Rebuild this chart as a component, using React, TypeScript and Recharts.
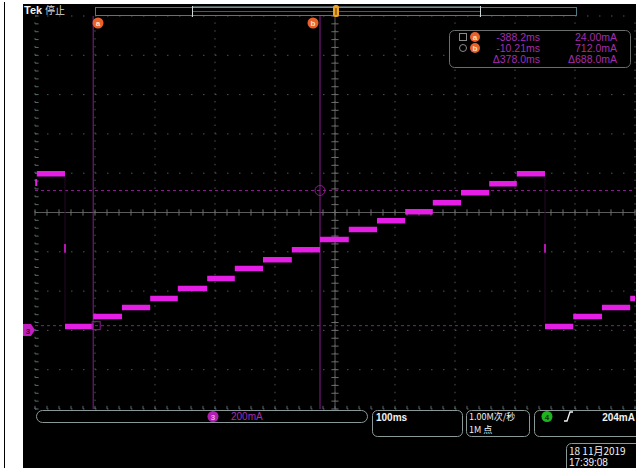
import React from "react";
import { ComposedChart, Line, XAxis, YAxis, ReferenceLine, ReferenceDot } from "recharts";

// ---- data (time in ms relative to screen centre, current in mA)
const stepStartMs = [-497, -450, -403, -355, -308, -262, -213, -167, -120, -72, -25, 23, 70, 117, 163, 210, 257, 303, 350, 397, 445, 492];
const stepEndMs = [-450, -403, -355, -308, -262, -213, -167, -120, -72, -25, 23, 70, 117, 163, 210, 257, 303, 350, 397, 445, 492, 500];
const stepLevelMa = [797, 20, 71, 117, 162, 213, 264, 315, 360, 411, 462, 513, 558, 604, 650, 700, 746, 797, 20, 71, 117, 162];

const dropTimesMs = [-450, 350];
const timeTicksMs = [-500, -400, -300, -200, -100, 0, 100, 200, 300, 400, 500];
const currentTicksMa = [-400, -200, 0, 200, 400, 600, 800, 1000, 1200, 1400, 1600];
const minorTimeStepMs = 20;
const minorCurrentStepMa = 40;

const cursorTimesMs = [-403, -25];
const cursorLevelsMa = [24, 712];
const cursorNames = ["a", "b"];
const readoutTime = ["-388.2ms", "-10.21ms", "Δ378.0ms"];
const readoutCurrent = ["24.00mA", "712.0mA", "Δ688.0mA"];

const X_DOMAIN: [number, number] = [-500, 500];
const Y_DOMAIN: [number, number] = [-400, 1600];

const waveRows: { t: number; I: number | null }[] = [];
stepStartMs.forEach((s, i) => {
  waveRows.push({ t: s, I: stepLevelMa[i] });
  waveRows.push({ t: stepEndMs[i], I: stepLevelMa[i] });
  waveRows.push({ t: stepEndMs[i], I: null });
});

const minorT: number[] = [];
for (let t = X_DOMAIN[0]; t <= X_DOMAIN[1]; t += minorTimeStepMs) minorT.push(t);
const minorI: number[] = [];
for (let v = Y_DOMAIN[0]; v <= Y_DOMAIN[1]; v += minorCurrentStepMa) minorI.push(v);

const MAG = "#e41ee4";
const CUR = "#8c1c90";
const TXT = "#a62cb0";
const GRID = "#4e5454";
const FONT = "'Liberation Sans', Arial, sans-serif";
const CJK = "'Noto Sans CJK SC', 'Liberation Sans', sans-serif";

export default function App() {
  const centerT = 0;
  const centerI = 600;
  return (
    <div style={{ position: "absolute", left: 0, top: 0, width: 636, height: 468, background: "#fff", overflow: "hidden" }}>
      <div style={{ position: "absolute", left: 4, top: 2, width: 1, height: 466, background: "#000" }} />
      <div style={{ position: "absolute", left: 23, top: 4, width: 613, height: 464, background: "#000" }}>
        <ComposedChart width={613} height={464} data={waveRows} margin={{ top: 12, right: 1, left: 12, bottom: 59 }}>
          <XAxis type="number" dataKey="t" domain={X_DOMAIN} hide allowDataOverflow />
          <YAxis type="number" domain={Y_DOMAIN} hide allowDataOverflow />
          {timeTicksMs.map((t) => (
            <ReferenceLine key={"gx" + t} x={t} stroke={t === X_DOMAIN[0] ? "#5a6a6e" : GRID} strokeDasharray="1.5 6.36" />
          ))}
          {currentTicksMa.map((v) => (
            <ReferenceLine key={"gy" + v} y={v} stroke={v === Y_DOMAIN[0] ? "#5a6a6e" : GRID} strokeDasharray="1.5 10.5" />
          ))}
          <ReferenceLine x={centerT} stroke="#5c5c5c" />
          <ReferenceLine y={centerI} stroke="#5c5c5c" />
          {minorT.map((t) => (
            <ReferenceLine key={"mt" + t} segment={[{ x: t, y: centerI - 16 }, { x: t, y: centerI + 16 }]} stroke="#6e6e6e" />
          ))}
          {minorI.map((v) => (
            <ReferenceLine key={"mi" + v} segment={[{ x: centerT - 6, y: v }, { x: centerT + 6, y: v }]} stroke="#6e6e6e" />
          ))}
          {minorT.map((t) => (
            <ReferenceLine key={"bt" + t} segment={[{ x: t, y: Y_DOMAIN[0] }, { x: t, y: Y_DOMAIN[0] + 16 }]} stroke="#5a6a6e" />
          ))}
          {minorI.map((v) => (
            <ReferenceLine key={"lt" + v} segment={[{ x: X_DOMAIN[0], y: v }, { x: X_DOMAIN[0] + 6, y: v }]} stroke="#5a6a6e" />
          ))}
          {cursorLevelsMa.map((v) => (
            <ReferenceLine key={"ch" + v} y={v} stroke={CUR} strokeDasharray="3 3" />
          ))}
          {cursorTimesMs.map((t) => (
            <ReferenceLine key={"cv" + t} x={t} stroke={CUR} />
          ))}
          {dropTimesMs.map((t) => (
            <ReferenceLine key={"dr" + t} segment={[{ x: t, y: 40 }, { x: t, y: 780 }]} stroke="#240824" />
          ))}
          {dropTimesMs.map((t) => (
            <ReferenceLine key={"db" + t} segment={[{ x: t, y: 395 }, { x: t, y: 440 }]} stroke={MAG} strokeWidth={1.5} />
          ))}
          <ReferenceLine segment={[{ x: stepStartMs[0] - 1, y: 735 }, { x: stepStartMs[0] - 1, y: 770 }]} stroke={MAG} strokeWidth={2} />
          <ReferenceDot x={cursorTimesMs[1]} y={cursorLevelsMa[1]} r={5} fill="none" stroke={CUR} />
          <ReferenceDot
            x={cursorTimesMs[0]}
            y={cursorLevelsMa[0]}
            r={4}
            shape={(p: any) => <rect x={p.cx - 1} y={p.cy - 4} width={8} height={8} fill="none" stroke={CUR} />}
          />
          <Line
            type="linear"
            dataKey="I"
            stroke={MAG}
            strokeWidth={5.5}
            strokeLinecap="butt"
            dot={false}
            activeDot={false}
            connectNulls={false}
            isAnimationActive={false}
          />
        </ComposedChart>
      </div>
      <svg width={636} height={468} style={{ position: "absolute", left: 0, top: 0, pointerEvents: "none" }}>
        {/* top status */}
        <text x={24} y={14} fill="#f2f2f2" fontFamily={FONT} fontWeight="bold" fontSize={11}>Tek</text>
        <text x={45} y={14} fill="#d8d8d8" fontFamily={CJK} fontSize={10}>停止</text>
        <rect x={95.5} y={7.5} width={481} height={8} fill="none" stroke="#4f7a82" />
        <line x1={192.5} y1={7} x2={480.5} y2={7} stroke="#8fa6aa" />
        <line x1={192} y1={11.5} x2={480} y2={11.5} stroke="#a020a8" />
        <line x1={192.5} y1={6} x2={192.5} y2={17} stroke="#cfd8d8" />
        <line x1={480.5} y1={6} x2={480.5} y2={17} stroke="#cfd8d8" />
        <rect x={333} y={5} width={6} height={12} rx={2.5} fill="#f0a428" />
        <line x1={336} y1={8} x2={336} y2={15} stroke="#5a3a08" />
        {/* cursor tags */}
        {cursorNames.map((n, i) => (
          <g key={n}>
            <circle cx={i === 0 ? 98 : 313} cy={23} r={5.5} fill="#e8602a" />
            <text x={i === 0 ? 98 : 313} y={26} textAnchor="middle" fill="#ffe2cc" fontFamily={FONT} fontWeight="bold" fontSize={8}>{n}</text>
          </g>
        ))}
        {/* cursor readout */}
        <rect x={449.5} y={30.5} width={181} height={37} rx={5} fill="#000" stroke="#6a6e6e" />
        <rect x={459.5} y={33.5} width={7} height={7} fill="none" stroke="#8a8a8a" />
        <circle cx={463} cy={48} r={3.5} fill="none" stroke="#8a8a8a" />
        {cursorNames.map((n, i) => (
          <g key={"r" + n}>
            <circle cx={475} cy={37 + i * 11} r={5} fill="#e8602a" />
            <text x={475} y={40 + i * 11} textAnchor="middle" fill="#ffe2cc" fontFamily={FONT} fontWeight="bold" fontSize={8}>{n}</text>
          </g>
        ))}
        {readoutTime.map((s, i) => (
          <text key={"rt" + i} x={540} y={41 + i * 11} textAnchor="end" fill={TXT} fontFamily={FONT} fontSize={10.5}>{s}</text>
        ))}
        {readoutCurrent.map((s, i) => (
          <text key={"rc" + i} x={617} y={41 + i * 11} textAnchor="end" fill={TXT} fontFamily={FONT} fontSize={10.5}>{s}</text>
        ))}
        {/* ground marker */}
        <path d="M23,324 L31,324 L35,330 L31,336 L23,336 Z" fill="#c21ec2" />
        <text x={28} y={333.5} textAnchor="middle" fill="#3a003a" fontFamily={FONT} fontWeight="bold" fontSize={8}>3</text>
        {/* bottom boxes */}
        <rect x={36.5} y={410.5} width={331} height={12} rx={6} fill="none" stroke="#8a9898" />
        <circle cx={213} cy={416.5} r={5.5} fill="#b020b0" />
        <text x={213} y={419.5} textAnchor="middle" fill="#f0a0f0" fontFamily={FONT} fontWeight="bold" fontSize={8}>3</text>
        <text x={231} y={420} fill={TXT} fontFamily={FONT} fontSize={10}>200mA</text>
        <rect x={372.5} y={410.5} width={90} height={26} rx={5} fill="none" stroke="#8a9898" />
        <text x={376} y={421} fill="#f2f2f2" fontFamily={FONT} fontWeight="bold" fontSize={10}>100ms</text>
        <rect x={466.5} y={410.5} width={63} height={26} rx={5} fill="none" stroke="#8a9898" />
        <text x={469} y={419.5} fill="#f2f2f2" fontFamily={CJK} fontSize={9}>1.00M次/秒</text>
        <text x={469} y={432.5} fill="#f2f2f2" fontFamily={CJK} fontSize={9}>1M 点</text>
        <rect x={534.5} y={410.5} width={110} height={26} rx={5} fill="none" stroke="#8a9898" />
        <circle cx={547} cy={416.5} r={5.5} fill="#1eb41e" />
        <text x={547} y={419.5} textAnchor="middle" fill="#0a3a0a" fontFamily={FONT} fontWeight="bold" fontSize={8}>4</text>
        <path d="M564,421 L567,421 L570,412 L573,412" fill="none" stroke="#f2f2f2" strokeWidth={1.3} />
        <text x={635} y={421} textAnchor="end" fill="#f2f2f2" fontFamily={FONT} fontWeight="bold" fontSize={10}>204mA</text>
        <rect x={566.5} y={443.5} width={75} height={30} rx={5} fill="none" stroke="#8a9898" />
        <text x={569} y={455} fill="#f2f2f2" fontFamily={CJK} fontSize={10}>18 11月2019</text>
        <text x={569} y={466} fill="#f2f2f2" fontFamily={FONT} fontSize={10}>17:39:08</text>
      </svg>
    </div>
  );
}
